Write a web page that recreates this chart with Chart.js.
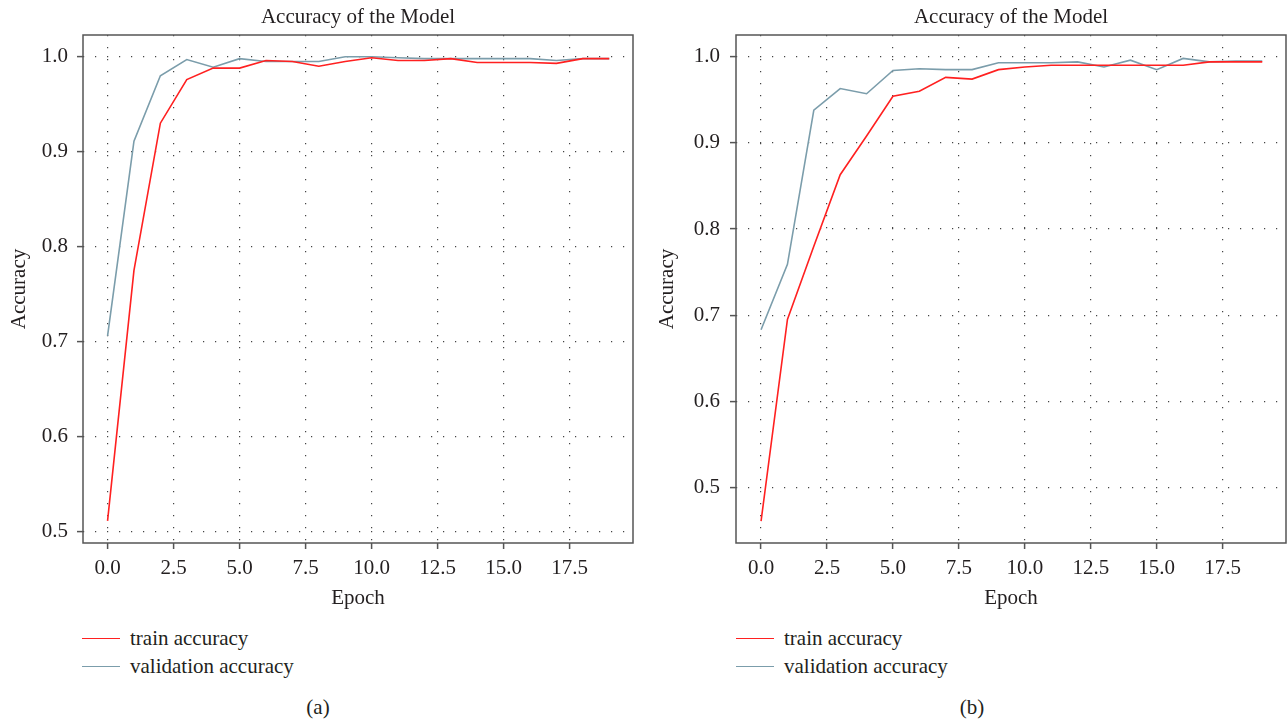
<!DOCTYPE html>
<html>
<head>
<meta charset="utf-8">
<script src="https://cdn.jsdelivr.net/npm/chart.js@4.4.0/dist/chart.umd.min.js"></script>
<style>
  body { margin: 0; background: #fff; width: 1288px; height: 722px; position: relative; overflow: hidden;
         font-family: "Liberation Serif", serif; color: #231f20; }
  canvas { position: absolute; top: 0; }
  .txt { position: absolute; font-size: 21px; line-height: 26px; white-space: nowrap; }
  .sw { position: absolute; width: 38px; height: 0; border-top: 1.6px solid; }
</style>
</head>
<body>
<canvas id="chartA" width="645" height="615" style="left:0"></canvas>
<canvas id="chartB" width="643" height="615" style="left:645px"></canvas>
<div id="legends"></div>
<script>
// epochs on the x axis
const epochs = [0, 1, 2, 3, 4, 5, 6, 7, 8, 9, 10, 11, 12, 13, 14, 15, 16, 17, 18, 19];

// panel (a)
const trainA = [0.511, 0.775, 0.930, 0.976, 0.988, 0.988, 0.996, 0.995, 0.990, 0.995,
                0.999, 0.996, 0.996, 0.998, 0.994, 0.994, 0.994, 0.993, 0.998, 0.998];
const valA   = [0.706, 0.911, 0.980, 0.997, 0.989, 0.998, 0.995, 0.995, 0.995, 1.000,
                1.000, 0.999, 0.998, 0.998, 0.998, 0.998, 0.998, 0.996, 0.998, 0.998];

// panel (b)
const trainB = [0.461, 0.695, 0.780, 0.863, 0.908, 0.954, 0.960, 0.976, 0.974, 0.985,
                0.988, 0.990, 0.990, 0.990, 0.990, 0.990, 0.990, 0.994, 0.994, 0.994];
const valB   = [0.683, 0.759, 0.938, 0.963, 0.957, 0.984, 0.986, 0.985, 0.985, 0.993,
                0.993, 0.993, 0.994, 0.988, 0.996, 0.985, 0.998, 0.994, 0.995, 0.995];

const xTicks = [0, 2.5, 5, 7.5, 10, 12.5, 15, 17.5];
const yTicks = [0.5, 0.6, 0.7, 0.8, 0.9, 1.0];
const seriesNames = ['train accuracy', 'validation accuracy'];
const lineColors = ['#ff2020', '#7b9dab'];

const FONT = { family: 'Liberation Serif', size: 21, weight: 'normal' };
const TXT = '#231f20';
const AXIS = '#555555';

// matplotlib style box round the plot
const frame = {
  id: 'frame',
  afterDraw(chart) {
    const a = chart.chartArea, ctx = chart.ctx;
    ctx.save();
    ctx.strokeStyle = AXIS;
    ctx.lineWidth = 1.5;
    ctx.strokeRect(a.left, a.top, a.right - a.left, a.bottom - a.top);
    ctx.restore();
  }
};

function makeChart(id, train, val, cfg) {
  const H = 615;
  return new Chart(document.getElementById(id), {
    type: 'line',
    data: {
      datasets: [train, val].map((s, i) => ({
        label: seriesNames[i],
        data: epochs.map((e, j) => ({ x: e, y: s[j] })),
        borderColor: lineColors[i],
        borderWidth: 1.6,
        pointRadius: 0,
        tension: 0,
        fill: false
      }))
    },
    options: {
      responsive: false,
      animation: false,
      layout: { padding: { left: 0, right: cfg.right, top: 0, bottom: 0 } },
      plugins: {
        legend: { display: false },
        tooltip: { enabled: false },
        title: {
          display: true, text: 'Accuracy of the Model', fullSize: false,
          color: TXT, font: FONT, padding: { top: 5, bottom: 4.8 }
        }
      },
      scales: {
        x: {
          type: 'linear', min: cfg.xMin, max: cfg.xMax, bounds: 'data',
          afterBuildTicks: s => { s.ticks = xTicks.map(v => ({ value: v })); },
          afterFit: s => { s.height = H - 543; },
          ticks: { color: TXT, font: FONT, padding: 7, autoSkip: false, maxRotation: 0,
                   callback: v => v.toFixed(1) },
          grid: { color: '#444', lineWidth: 1.2, tickLength: 6, tickColor: AXIS, tickWidth: 1.5 },
          border: { display: false, dash: [1.2, 10.8] },
          title: { display: true, text: 'Epoch', color: TXT, font: FONT, padding: { top: 0, bottom: 4 } }
        },
        y: {
          type: 'linear', min: cfg.yMin, max: cfg.yMax, bounds: 'data',
          afterBuildTicks: s => { s.ticks = yTicks.map(v => ({ value: v })); },
          afterFit: s => { s.width = cfg.yWidth; },
          ticks: { color: TXT, font: FONT, padding: cfg.yPad, autoSkip: false,
                   callback: v => v.toFixed(1) },
          grid: { color: '#444', lineWidth: 1.2, tickLength: 6, tickColor: AXIS, tickWidth: 1.5 },
          border: { display: false, dash: [1.2, 10.8] },
          title: { display: true, text: 'Accuracy', color: TXT, font: FONT, padding: { top: cfg.yTitle, bottom: 0 } }
        }
      }
    },
    plugins: [frame]
  });
}

makeChart('chartA', trainA, valA,
  { xMin: -0.93, xMax: 19.9, yMin: 0.4877, yMax: 1.0229, yWidth: 83, right: 12, yPad: 9, yTitle: 7 });
makeChart('chartB', trainB, valB,
  { xMin: -0.95, xMax: 19.9, yMin: 0.4355, yMax: 1.0252, yWidth: 91, right: 2, yPad: 10, yTitle: 10 });

// legends and panel captions below the charts
const legendSpots = [{ line: 82, text: 130, cap: 318, caption: '(a)' },
                     { line: 736, text: 784, cap: 972, caption: '(b)' }];
const box = document.getElementById('legends');
legendSpots.forEach(p => {
  seriesNames.forEach((name, i) => {
    const y = 639 + i * 28;
    const sw = document.createElement('div');
    sw.className = 'sw';
    sw.style.left = p.line + 'px';
    sw.style.top = (y - 1) + 'px';
    sw.style.borderColor = lineColors[i];
    box.appendChild(sw);
    const t = document.createElement('div');
    t.className = 'txt';
    t.style.left = p.text + 'px';
    t.style.top = (y - 14) + 'px';
    t.textContent = name;
    box.appendChild(t);
  });
  const c = document.createElement('div');
  c.className = 'txt';
  c.style.left = (p.cap - 40) + 'px';
  c.style.width = '80px';
  c.style.textAlign = 'center';
  c.style.top = (708 - 14) + 'px';
  c.textContent = p.caption;
  box.appendChild(c);
});
</script>
</body>
</html>
